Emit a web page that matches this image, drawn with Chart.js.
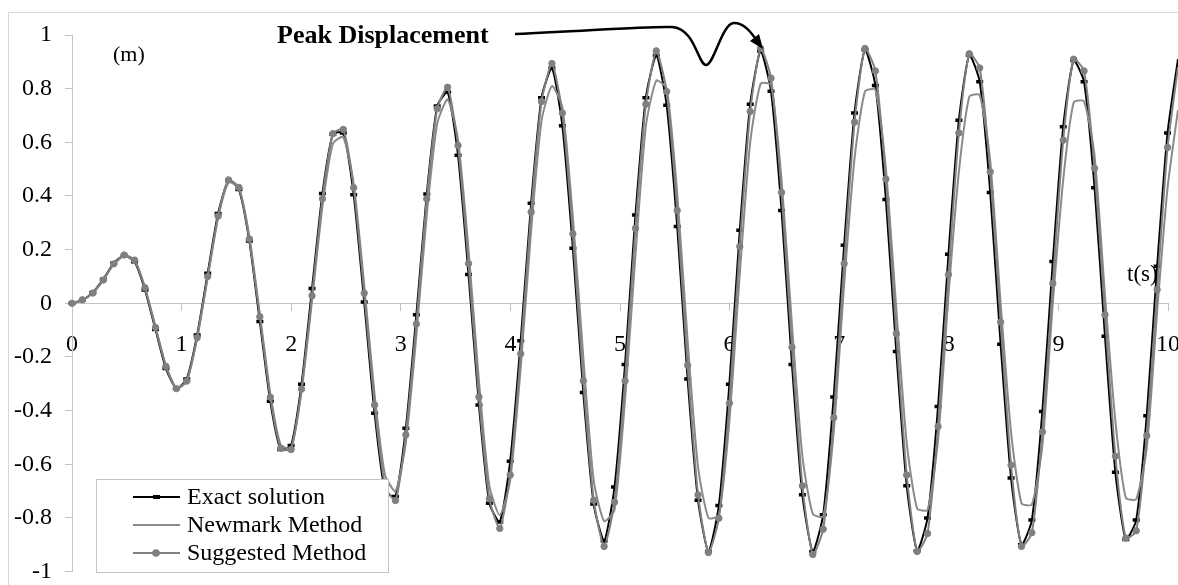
<!DOCTYPE html>
<html>
<head>
<meta charset="utf-8">
<script src="https://cdn.jsdelivr.net/npm/chart.js@4.4.0/dist/chart.umd.min.js"></script>
<style>
    html, body { margin: 0; padding: 0; background: #fff; overflow: hidden; }
    #wrap { position: relative; width: 1178px; height: 585px; overflow: hidden; }
    #frame { position: absolute; left: 8px; top: 12px; width: 1400px; height: 800px; border: 1px solid #d9d9d9; box-sizing: border-box; }
    #chart { position: absolute; left: 0; top: 0; }
</style>
</head>
<body>
<div id="wrap">
    <div id="frame"></div>
    <canvas id="chart" width="1200" height="599"></canvas>
</div>
<script>
const X_TICKS = [0, 1, 2, 3, 4, 5, 6, 7, 8, 9, 10];
const Y_TICKS = [-1, -0.8, -0.6, -0.4, -0.2, 0, 0.2, 0.4, 0.6, 0.8, 1];

const times = [
    0, 0.095, 0.19, 0.286, 0.381, 0.476, 0.571, 0.666, 0.762, 0.857,
    0.952, 1.047, 1.142, 1.238, 1.333, 1.428, 1.523, 1.618, 1.714, 1.809,
    1.904, 1.999, 2.094, 2.19, 2.285, 2.38, 2.475, 2.57, 2.666, 2.761,
    2.856, 2.951, 3.046, 3.142, 3.237, 3.332, 3.427, 3.522, 3.618, 3.713,
    3.808, 3.903, 3.998, 4.094, 4.189, 4.284, 4.379, 4.474, 4.57, 4.665,
    4.76, 4.855, 4.95, 5.046, 5.141, 5.236, 5.331, 5.426, 5.522, 5.617,
    5.712, 5.807, 5.902, 5.998, 6.093, 6.188, 6.283, 6.378, 6.474, 6.569,
    6.664, 6.759, 6.854, 6.95, 7.045, 7.14, 7.235, 7.33, 7.426, 7.521,
    7.616, 7.711, 7.806, 7.902, 7.997, 8.092, 8.187, 8.282, 8.378, 8.473,
    8.568, 8.663, 8.758, 8.854, 8.949, 9.044, 9.139, 9.234, 9.33, 9.425,
    9.52, 9.615, 9.71, 9.806, 9.901, 9.996, 10.091
];

const exactSolution = [
    0, 0.012, 0.04, 0.09, 0.15, 0.178, 0.155, 0.05, -0.098, -0.243,
    -0.318, -0.282, -0.118, 0.112, 0.335, 0.458, 0.424, 0.232, -0.068, -0.365,
    -0.545, -0.53, -0.302, 0.055, 0.409, 0.63, 0.635, 0.405, 0.005, -0.41,
    -0.7, -0.72, -0.466, -0.043, 0.407, 0.735, 0.787, 0.552, 0.107, -0.379,
    -0.745, -0.815, -0.589, -0.14, 0.373, 0.766, 0.877, 0.662, 0.205, -0.332,
    -0.748, -0.886, -0.685, -0.228, 0.329, 0.766, 0.924, 0.738, 0.286, -0.282,
    -0.734, -0.925, -0.754, -0.302, 0.272, 0.742, 0.94, 0.79, 0.346, -0.228,
    -0.714, -0.925, -0.788, -0.349, 0.216, 0.709, 0.945, 0.812, 0.387, -0.18,
    -0.68, -0.922, -0.8, -0.385, 0.183, 0.682, 0.925, 0.826, 0.413, -0.153,
    -0.651, -0.9, -0.808, -0.403, 0.156, 0.658, 0.905, 0.826, 0.431, -0.123,
    -0.63, -0.88, -0.808, -0.419, 0.138, 0.635, 0.91
];

const newmarkMethod = [
    0, 0.012, 0.038, 0.087, 0.146, 0.175, 0.158, 0.058, -0.088, -0.232,
    -0.315, -0.29, -0.13, 0.095, 0.318, 0.45, 0.43, 0.25, -0.04, -0.335,
    -0.528, -0.54, -0.33, 0.01, 0.36, 0.595, 0.62, 0.445, 0.07, -0.34,
    -0.64, -0.7, -0.52, -0.12, 0.33, 0.67, 0.76, 0.61, 0.2, -0.29,
    -0.68, -0.79, -0.66, -0.24, 0.27, 0.68, 0.81, 0.73, 0.32, -0.2,
    -0.66, -0.812, -0.77, -0.36, 0.18, 0.66, 0.83, 0.8, 0.41, -0.14,
    -0.61, -0.8, -0.79, -0.44, 0.11, 0.6, 0.818, 0.815, 0.46, -0.08,
    -0.57, -0.785, -0.795, -0.48, 0.07, 0.54, 0.79, 0.796, 0.5, -0.02,
    -0.52, -0.765, -0.77, -0.51, 0.03, 0.49, 0.77, 0.776, 0.53, 0.0,
    -0.48, -0.745, -0.75, -0.53, 0.0, 0.46, 0.748, 0.753, 0.55, 0.03,
    -0.44, -0.725, -0.73, -0.54, -0.03, 0.43, 0.72
];

const suggestedMethod = [
    0, 0.013, 0.038, 0.087, 0.147, 0.18, 0.161, 0.058, -0.09, -0.235,
    -0.318, -0.29, -0.128, 0.1, 0.325, 0.46, 0.432, 0.24, -0.05, -0.35,
    -0.54, -0.545, -0.32, 0.028, 0.39, 0.632, 0.648, 0.431, 0.038, -0.379,
    -0.68, -0.735, -0.49, -0.077, 0.389, 0.725, 0.805, 0.588, 0.148, -0.349,
    -0.728, -0.839, -0.64, -0.188, 0.34, 0.752, 0.894, 0.709, 0.259, -0.289,
    -0.734, -0.906, -0.741, -0.289, 0.279, 0.742, 0.941, 0.789, 0.346, -0.231,
    -0.714, -0.929, -0.801, -0.372, 0.212, 0.715, 0.95, 0.839, 0.413, -0.164,
    -0.68, -0.936, -0.842, -0.426, 0.148, 0.675, 0.95, 0.866, 0.463, -0.113,
    -0.64, -0.925, -0.858, -0.459, 0.107, 0.635, 0.93, 0.877, 0.49, -0.07,
    -0.603, -0.906, -0.855, -0.479, 0.074, 0.608, 0.91, 0.866, 0.503, -0.043,
    -0.57, -0.875, -0.848, -0.493, 0.051, 0.581, 0.88
];

const SERIF = "'Liberation Serif', 'Times New Roman', serif";
const AXIS_GRAY = '#c4c4c4';

function toPoints(values) {
    return values.map((v, i) => ({ x: times[i], y: v }));
}

// text that sits under the curves
const underLabels = {
    id: 'underLabels',
    beforeDatasetsDraw(chart) {
        const ctx = chart.ctx;
        ctx.save();
        ctx.fillStyle = '#000';
        ctx.textBaseline = 'alphabetic';
        ctx.font = `22px ${SERIF}`;
        ctx.fillText('(m)', 113, 61);
        ctx.font = `23px ${SERIF}`;
        ctx.fillText('t(s)', 1127, 281);
        ctx.restore();
    }
};

// boxed legend, title and arrow drawn over the curves
const overlay = {
    id: 'overlay',
    afterDatasetsDraw(chart) {
        const ctx = chart.ctx;
        const area = chart.chartArea;
        const bx = area.left + 24, by = 479, bw = 292, bh = 93;

        ctx.save();
        ctx.fillStyle = '#fff';
        ctx.fillRect(bx, by, bw, bh);
        ctx.strokeStyle = AXIS_GRAY;
        ctx.lineWidth = 1;
        ctx.strokeRect(bx + 0.5, by + 0.5, bw, bh);

        ctx.font = `24px ${SERIF}`;
        ctx.textBaseline = 'middle';
        chart.data.datasets.forEach((ds, i) => {
            const rowY = by + 18 + i * 28;
            ctx.strokeStyle = ds.borderColor;
            ctx.lineWidth = ds.borderWidth;
            ctx.beginPath();
            ctx.moveTo(bx + 37, rowY);
            ctx.lineTo(bx + 84, rowY);
            ctx.stroke();
            if (ds.pointStyle === 'line') {
                ctx.fillStyle = ds.borderColor;
                ctx.fillRect(bx + 57, rowY - 2, 7, 4);
            } else if (ds.pointRadius > 0) {
                ctx.fillStyle = ds.pointBackgroundColor;
                ctx.beginPath();
                ctx.arc(bx + 60, rowY, 3.8, 0, Math.PI * 2);
                ctx.fill();
            }
            ctx.fillStyle = '#000';
            ctx.fillText(ds.label, bx + 91, rowY + 1);
        });

        ctx.font = `bold 26px ${SERIF}`;
        ctx.textBaseline = 'alphabetic';
        ctx.fillText('Peak Displacement', 277, 43);

        ctx.strokeStyle = '#000';
        ctx.lineWidth = 2.5;
        ctx.beginPath();
        ctx.moveTo(515, 34);
        ctx.bezierCurveTo(600, 30, 650, 26, 672, 27);
        ctx.bezierCurveTo(695, 28, 698, 65, 706, 65);
        ctx.bezierCurveTo(714, 65, 722, 23, 734, 23);
        ctx.bezierCurveTo(744, 23, 751, 32, 757, 41);
        ctx.stroke();
        ctx.fillStyle = '#000';
        ctx.beginPath();
        ctx.moveTo(763, 49);
        ctx.lineTo(750, 41);
        ctx.lineTo(759, 34);
        ctx.closePath();
        ctx.fill();
        ctx.restore();
    }
};

function initChart() {
    Chart.defaults.font.family = SERIF;
    Chart.defaults.font.size = 24;
    Chart.defaults.color = '#000';

    const ctx = document.getElementById('chart').getContext('2d');
    return new Chart(ctx, {
        type: 'line',
        data: {
            datasets: [
                {
                    label: 'Exact solution',
                    data: toPoints(exactSolution),
                    borderColor: '#000',
                    backgroundColor: '#000',
                    borderWidth: 2,
                    pointStyle: 'line',
                    pointRadius: 3.5,
                    pointBorderWidth: 3.5,
                    pointBorderColor: '#000',
                    tension: 0.2,
                    order: 3
                },
                {
                    label: 'Newmark Method',
                    data: toPoints(newmarkMethod),
                    borderColor: '#8a8a8a',
                    backgroundColor: '#8a8a8a',
                    borderWidth: 2,
                    pointRadius: 0,
                    tension: 0.2,
                    order: 2
                },
                {
                    label: 'Suggested Method',
                    data: toPoints(suggestedMethod),
                    borderColor: '#808080',
                    backgroundColor: '#808080',
                    borderWidth: 2,
                    pointStyle: 'circle',
                    pointRadius: 3.2,
                    pointBorderWidth: 1,
                    pointBackgroundColor: '#808080',
                    pointBorderColor: '#808080',
                    tension: 0.2,
                    order: 1
                }
            ]
        },
        options: {
            responsive: false,
            animation: false,
            devicePixelRatio: 1,
            clip: { left: 4, top: 4, right: 30, bottom: 4 },
            layout: { padding: { left: 8, top: 35, right: 28, bottom: 0 } },
            plugins: {
                legend: { display: false },
                tooltip: { enabled: false }
            },
            scales: {
                x: {
                    type: 'linear',
                    position: { y: 0 },
                    min: X_TICKS[0],
                    max: X_TICKS[X_TICKS.length - 1],
                    afterBuildTicks: scale => { scale.ticks = X_TICKS.map(v => ({ value: v })); },
                    ticks: { padding: 20, maxRotation: 0, autoSkip: false, callback: v => String(v) },
                    grid: { drawOnChartArea: false, drawTicks: true, tickLength: 7, color: AXIS_GRAY },
                    border: { color: AXIS_GRAY, width: 1 }
                },
                y: {
                    min: Y_TICKS[0],
                    max: Y_TICKS[Y_TICKS.length - 1],
                    afterBuildTicks: scale => { scale.ticks = Y_TICKS.map(v => ({ value: v })); },
                    afterFit: scale => { scale.width = 64; },
                    ticks: { padding: 13, callback: v => String(Math.round(v * 10) / 10) },
                    grid: { drawOnChartArea: false, drawTicks: true, tickLength: 7, color: AXIS_GRAY },
                    border: { color: AXIS_GRAY, width: 1 }
                }
            }
        },
        plugins: [underLabels, overlay]
    });
}

initChart();
</script>
</body>
</html>
